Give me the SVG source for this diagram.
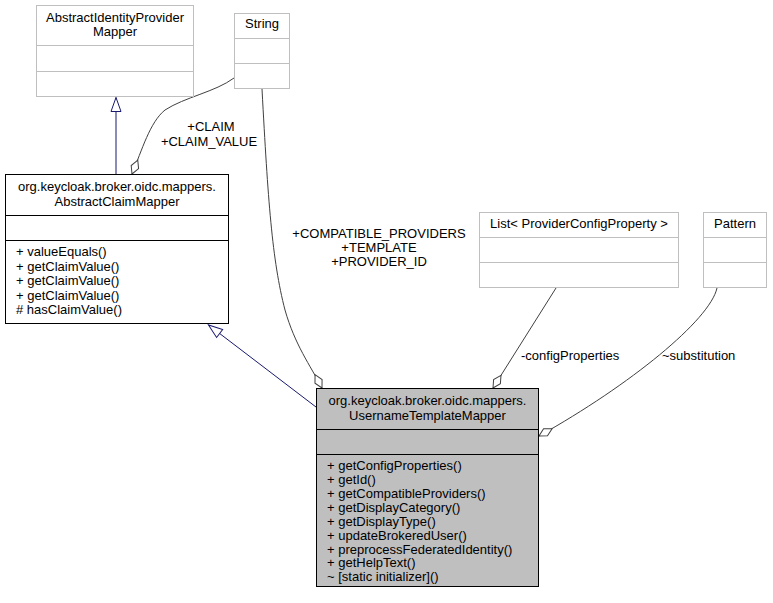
<svg xmlns="http://www.w3.org/2000/svg" width="773" height="603" viewBox="0 0 773 603">
<style>
text{font-family:"Liberation Sans",Arial,sans-serif;font-size:13px;fill:#000}
.c{text-anchor:middle}
.grey rect,.grey line{stroke:#bfbfbf;fill:#fff;stroke-width:1}
.plain rect,.plain line{stroke:#000;fill:#fff;stroke-width:1}
.hl rect,.hl line{stroke:#000;fill:#bfbfbf;stroke-width:1}
.inh{stroke:#191970;fill:none;stroke-width:1;marker-end:url(#tri)}
.agg{stroke:#404040;fill:none;stroke-width:1;marker-end:url(#dia)}
</style>
<defs>
<marker id="tri" markerUnits="userSpaceOnUse" markerWidth="20" markerHeight="20" refX="0" refY="0" orient="auto" viewBox="-16 -8 20 16" overflow="visible">
<path d="M0,0 L-14,-5 L-14,5 Z" fill="#fff" stroke="#191970" stroke-width="1"/>
</marker>
<marker id="dia" markerUnits="userSpaceOnUse" markerWidth="20" markerHeight="20" refX="0" refY="0" orient="auto" viewBox="-16 -8 20 16" overflow="visible">
<path d="M0,0 L-7.5,-4 L-15,0 L-7.5,4 Z" fill="#fff" stroke="#404040" stroke-width="1"/>
</marker>
</defs>
<rect width="773" height="603" fill="#fff"/>

<g id="connectors">
<path class="inh" d="M116,174 L116,97.5"/>
<path class="inh" d="M316,407 L208.5,325"/>
<path class="agg" d="M234,78 C215,92 185,97 165,110 C150,122 142,150 132,174"/>
<path class="agg" d="M262,89 C268,200 272,260 285,310 C295,345 310,365 322,388"/>
<path class="agg" d="M556,288 L493,388"/>
<path class="agg" d="M717,288 C710,320 630,385 539,436"/>
<text class="c" x="211" y="131">+CLAIM</text>
<text class="c" x="209" y="146">+CLAIM_VALUE</text>
<text class="c" x="379" y="238">+COMPATIBLE_PROVIDERS</text>
<text class="c" x="379" y="252">+TEMPLATE</text>
<text class="c" x="379" y="266">+PROVIDER_ID</text>
<text x="521" y="360">-configProperties</text>
<text x="662" y="360">~substitution</text>
</g>

<g id="AbstractIdentityProviderMapper" class="grey">
<rect x="36.5" y="5.5" width="157" height="91"/>
<line x1="36.5" y1="45.5" x2="193.5" y2="45.5"/>
<line x1="36.5" y1="71.5" x2="193.5" y2="71.5"/>
<text class="c" x="115" y="22">AbstractIdentityProvider</text>
<text class="c" x="115" y="36">Mapper</text>
</g>

<g id="String" class="grey">
<rect x="234.5" y="13.5" width="55" height="75"/>
<line x1="234.5" y1="38.5" x2="289.5" y2="38.5"/>
<line x1="234.5" y1="63.5" x2="289.5" y2="63.5"/>
<text class="c" x="262" y="28">String</text>
</g>

<g id="AbstractClaimMapper" class="plain">
<rect x="5.5" y="174.5" width="223" height="149"/>
<line x1="5.5" y1="215.5" x2="228.5" y2="215.5"/>
<line x1="5.5" y1="240.5" x2="228.5" y2="240.5"/>
<text class="c" x="117" y="191">org.keycloak.broker.oidc.mappers.</text>
<text class="c" x="117" y="206">AbstractClaimMapper</text>
<text x="16" y="256">+ valueEquals()</text>
<text x="16" y="270.5">+ getClaimValue()</text>
<text x="16" y="285">+ getClaimValue()</text>
<text x="16" y="299.5">+ getClaimValue()</text>
<text x="16" y="314"># hasClaimValue()</text>
</g>

<g id="UsernameTemplateMapper" class="hl">
<rect x="316.5" y="388.5" width="222" height="198"/>
<line x1="316.5" y1="429.5" x2="538.5" y2="429.5"/>
<line x1="316.5" y1="454.5" x2="538.5" y2="454.5"/>
<text class="c" x="427.5" y="405">org.keycloak.broker.oidc.mappers.</text>
<text class="c" x="427.5" y="420">UsernameTemplateMapper</text>
<text x="327" y="470">+ getConfigProperties()</text>
<text x="327" y="484">+ getId()</text>
<text x="327" y="498">+ getCompatibleProviders()</text>
<text x="327" y="511.5">+ getDisplayCategory()</text>
<text x="327" y="525.5">+ getDisplayType()</text>
<text x="327" y="539.5">+ updateBrokeredUser()</text>
<text x="327" y="553.5">+ preprocessFederatedIdentity()</text>
<text x="327" y="567">+ getHelpText()</text>
<text x="327" y="581">~ [static initializer]()</text>
</g>

<g id="ListProviderConfigProperty" class="grey">
<rect x="479.5" y="212.5" width="199" height="75"/>
<line x1="479.5" y1="237.5" x2="678.5" y2="237.5"/>
<line x1="479.5" y1="262.5" x2="678.5" y2="262.5"/>
<text class="c" x="579" y="228">List&lt; ProviderConfigProperty &gt;</text>
</g>

<g id="Pattern" class="grey">
<rect x="703.5" y="212.5" width="63" height="75"/>
<line x1="703.5" y1="237.5" x2="766.5" y2="237.5"/>
<line x1="703.5" y1="262.5" x2="766.5" y2="262.5"/>
<text class="c" x="735" y="228">Pattern</text>
</g>
</svg>
